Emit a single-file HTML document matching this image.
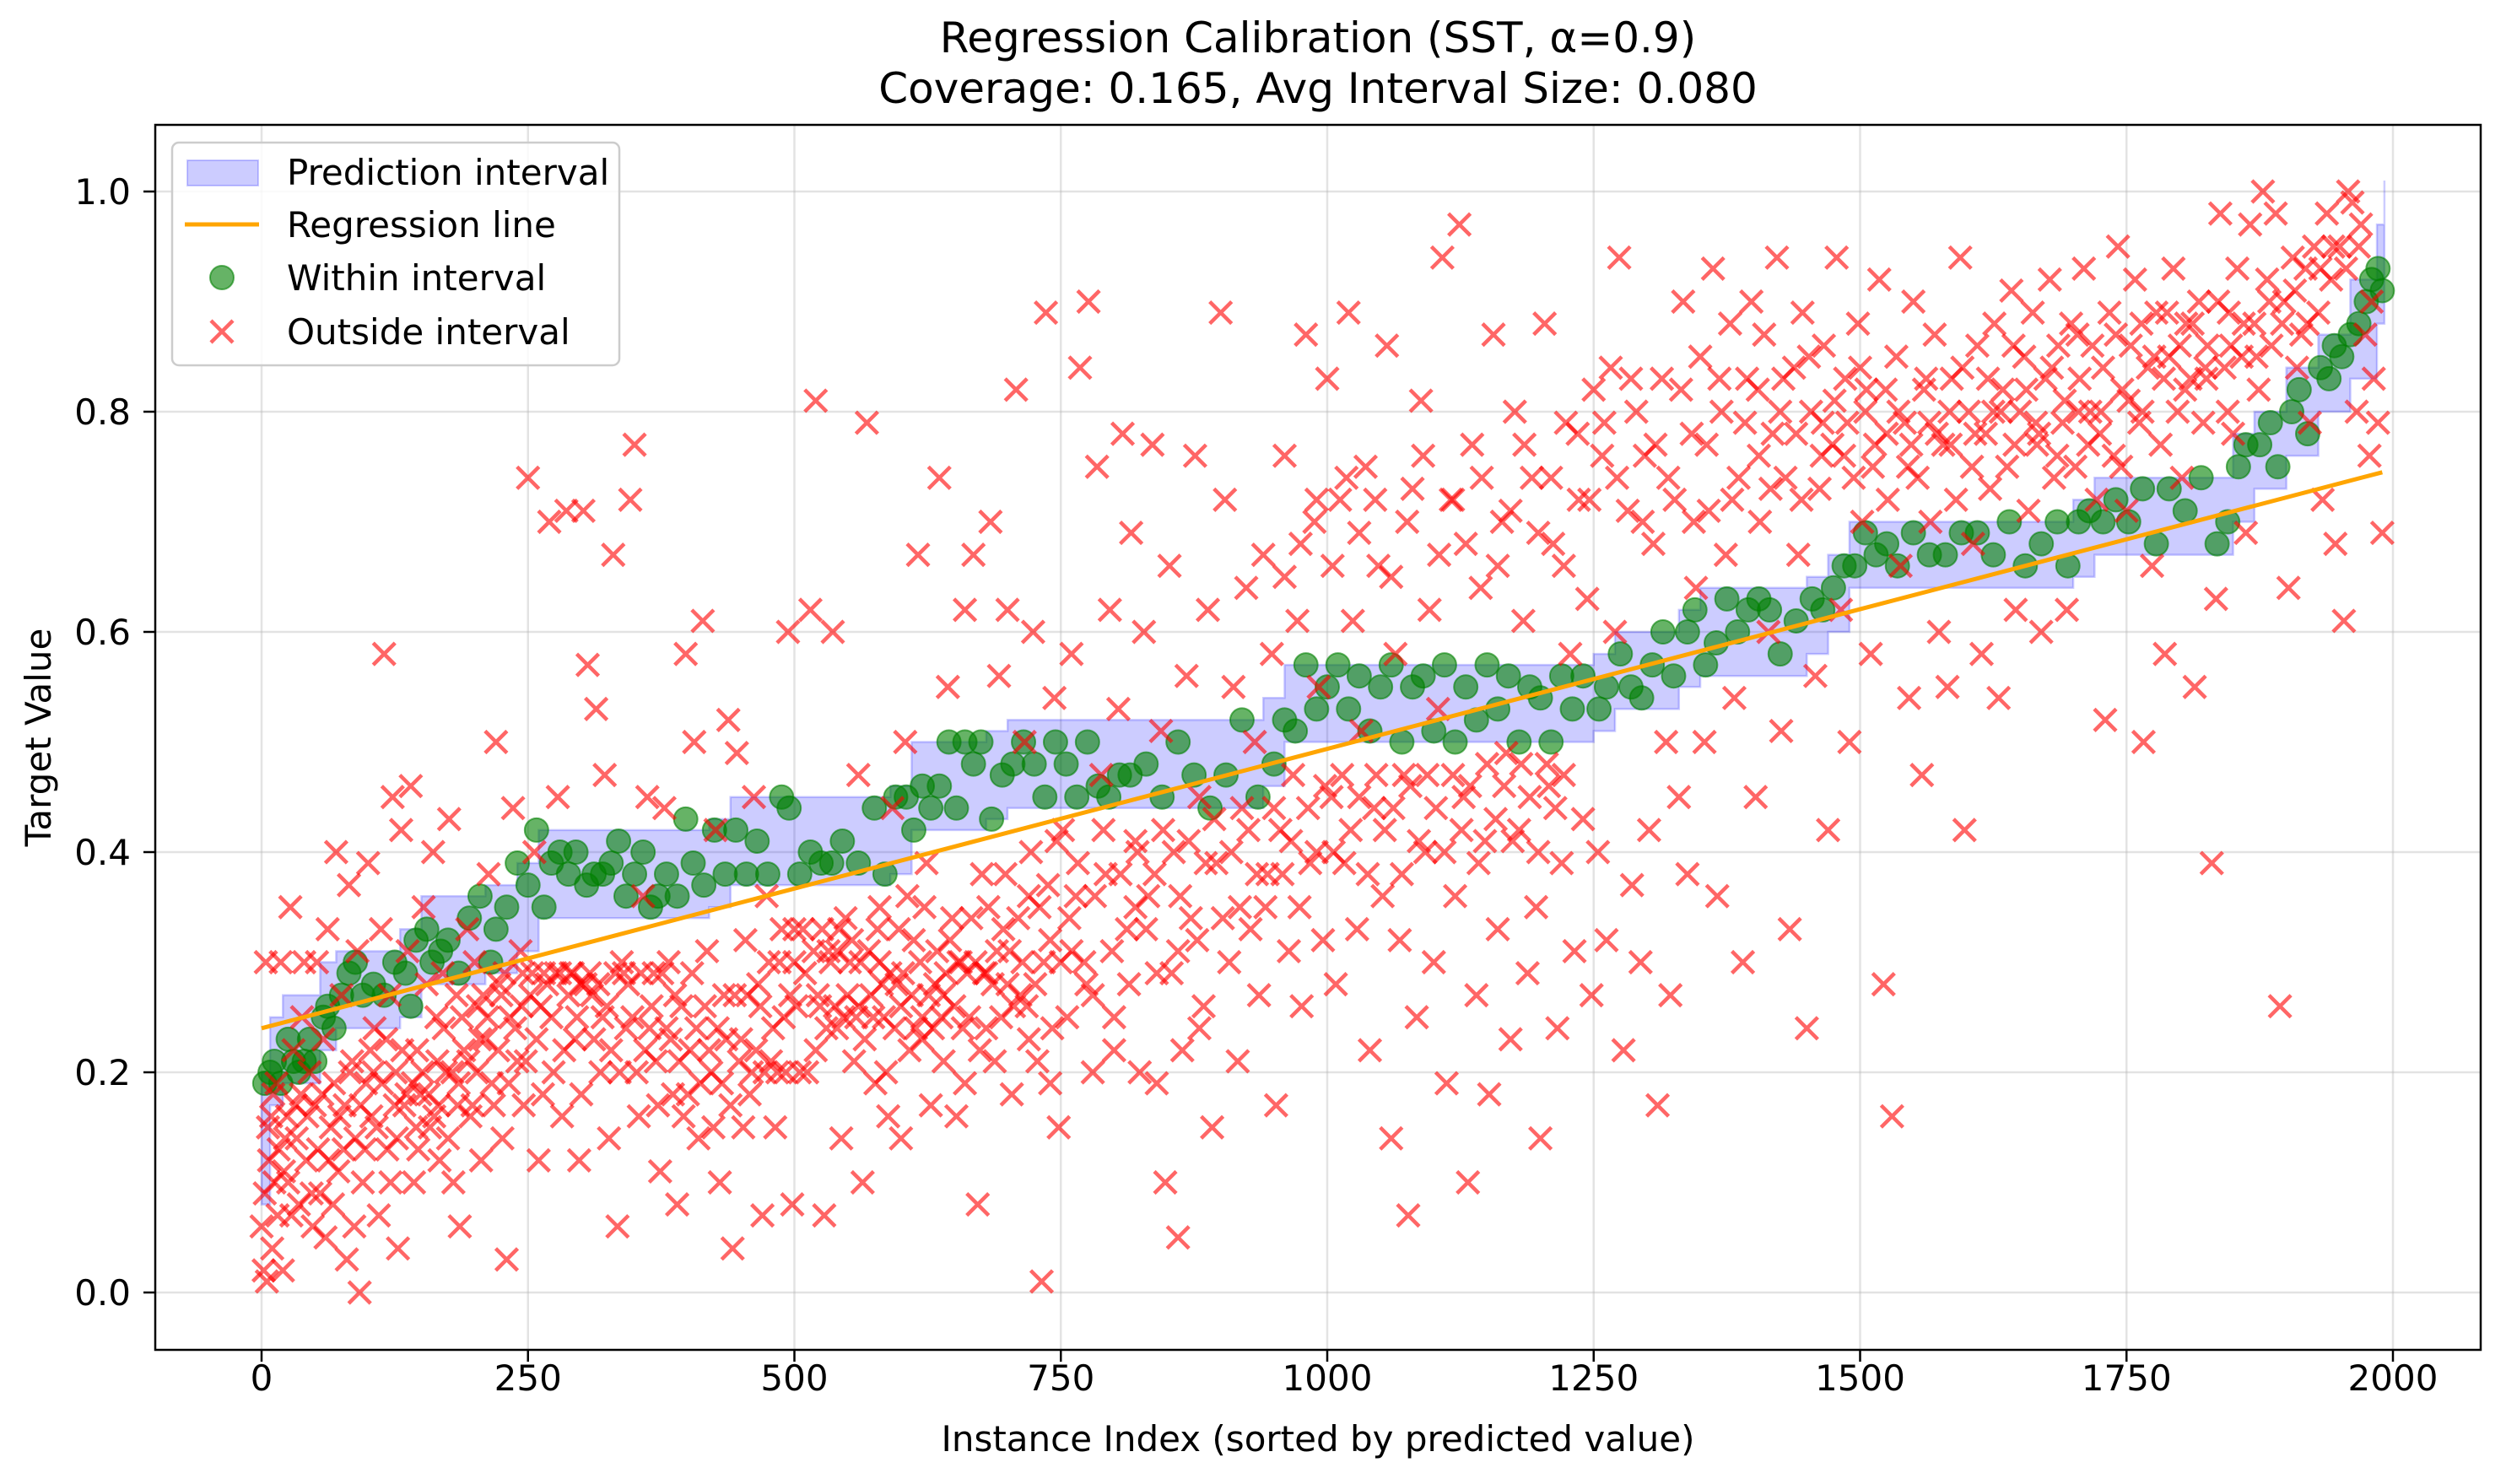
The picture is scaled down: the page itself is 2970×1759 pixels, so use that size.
<!DOCTYPE html>
<html><head><meta charset="utf-8">
<style>
html,body{margin:0;padding:0;background:#fff;}
svg{display:block;font-family:"DejaVu Sans","Liberation Sans",sans-serif;}
</style></head>
<body>
<svg id="chart" xmlns="http://www.w3.org/2000/svg" width="2970" height="1759" viewBox="0 0 2970 1759">
<rect x="0" y="0" width="2970" height="1759" fill="#fff"/>
<text x="1562" y="62" font-size="50" text-anchor="middle">Regression Calibration (SST, α=0.9)</text>
<text x="1562" y="122" font-size="50" text-anchor="middle">Coverage: 0.165, Avg Interval Size: 0.080</text>
<g id="grid"></g>
<g id="plot"></g>
<rect x="184" y="148" width="2756" height="1452" fill="none" stroke="#000" stroke-width="2.5"/>
<g id="ticks"></g>
<text x="1562" y="1720" font-size="42" text-anchor="middle">Instance Index (sorted by predicted value)</text>
<text x="0" y="0" font-size="42" text-anchor="middle" transform="translate(60,874) rotate(-90)">Target Value</text>
<g>
<rect x="204" y="169" width="530" height="264" rx="8" fill="#fff" fill-opacity="0.8" stroke="#ccc" stroke-width="2.5"/>
<rect x="222" y="190" width="84" height="30" fill="#0000ff" fill-opacity="0.2" stroke="#0000ff" stroke-opacity="0.2" stroke-width="2"/>
<text x="340" y="219" font-size="42">Prediction interval</text>
<line x1="219" y1="266" x2="307" y2="266" stroke="#ffa500" stroke-width="5"/>
<text x="340" y="281" font-size="42">Regression line</text>
<circle cx="263" cy="329" r="14" fill="#008000" fill-opacity="0.6" stroke="#008000" stroke-opacity="0.6" stroke-width="2"/>
<text x="340" y="344" font-size="42">Within interval</text>
<path d="M250,380L276,406M250,406L276,380" stroke="#ff0000" stroke-opacity="0.6" stroke-width="4.5"/>
<text x="340" y="408" font-size="42">Outside interval</text>
</g>
</svg>
<script>
const xTicks = [0,250,500,750,1000,1250,1500,1750,2000];
const yTicks = [0.0,0.2,0.4,0.6,0.8,1.0];
const yTickLabels = ["0.0","0.2","0.4","0.6","0.8","1.0"];
const regX = [0,1990];
const regY = [0.24,0.745];
const bandX = [0,8,20,55,70,130,150,210,240,260,420,440,590,610,680,700,940,960,1250,1270,1330,1350,1450,1470,1490,1700,1720,1850,1870,1900,1930,1960,1985,1992];
const bandLo = [0.08,0.17,0.19,0.22,0.24,0.25,0.28,0.29,0.31,0.34,0.35,0.37,0.38,0.42,0.43,0.44,0.46,0.50,0.51,0.53,0.55,0.56,0.58,0.60,0.64,0.65,0.67,0.70,0.73,0.76,0.80,0.83,0.88,0.95];
const bandHi = [0.20,0.25,0.27,0.30,0.31,0.33,0.36,0.37,0.39,0.42,0.43,0.45,0.46,0.50,0.51,0.52,0.54,0.57,0.58,0.60,0.62,0.64,0.65,0.67,0.70,0.72,0.74,0.78,0.80,0.84,0.87,0.92,0.97,1.01];
const withinPts = [[3,0.19],[8,0.2],[12,0.21],[18,0.19],[25,0.23],[30,0.21],[35,0.2],[40,0.21],[45,0.23],[50,0.21],[58,0.25],[62,0.26],[68,0.24],[75,0.27],[82,0.29],[88,0.3],[95,0.27],[105,0.28],[115,0.27],[125,0.3],[135,0.29],[140,0.26],[145,0.32],[155,0.33],[160,0.3],[168,0.31],[175,0.32],[185,0.29],[195,0.34],[205,0.36],[215,0.3],[220,0.33],[230,0.35],[240,0.39],[250,0.37],[258,0.42],[265,0.35],[272,0.39],[280,0.4],[288,0.38],[295,0.4],[305,0.37],[312,0.38],[320,0.38],[328,0.39],[335,0.41],[342,0.36],[350,0.38],[358,0.4],[365,0.35],[372,0.36],[380,0.38],[390,0.36],[398,0.43],[405,0.39],[415,0.37],[425,0.42],[435,0.38],[445,0.42],[455,0.38],[465,0.41],[475,0.38],[488,0.45],[495,0.44],[505,0.38],[515,0.4],[525,0.39],[535,0.39],[545,0.41],[560,0.39],[575,0.44],[585,0.38],[595,0.45],[605,0.45],[612,0.42],[620,0.46],[628,0.44],[636,0.46],[645,0.5],[652,0.44],[660,0.5],[668,0.48],[675,0.5],[685,0.43],[695,0.47],[705,0.48],[715,0.5],[725,0.48],[735,0.45],[745,0.5],[755,0.48],[765,0.45],[775,0.5],[785,0.46],[795,0.45],[805,0.47],[815,0.47],[830,0.48],[845,0.45],[860,0.5],[875,0.47],[890,0.44],[905,0.47],[920,0.52],[935,0.45],[950,0.48],[960,0.52],[970,0.51],[980,0.57],[990,0.53],[1000,0.55],[1010,0.57],[1020,0.53],[1030,0.56],[1040,0.51],[1050,0.55],[1060,0.57],[1070,0.5],[1080,0.55],[1090,0.56],[1100,0.51],[1110,0.57],[1120,0.5],[1130,0.55],[1140,0.52],[1150,0.57],[1160,0.53],[1170,0.56],[1180,0.5],[1190,0.55],[1200,0.54],[1210,0.5],[1220,0.56],[1230,0.53],[1240,0.56],[1255,0.53],[1262,0.55],[1275,0.58],[1285,0.55],[1295,0.54],[1305,0.57],[1315,0.6],[1325,0.56],[1338,0.6],[1345,0.62],[1355,0.57],[1365,0.59],[1375,0.63],[1385,0.6],[1395,0.62],[1405,0.63],[1415,0.62],[1425,0.58],[1440,0.61],[1455,0.63],[1465,0.62],[1475,0.64],[1485,0.66],[1495,0.66],[1505,0.69],[1515,0.67],[1525,0.68],[1535,0.66],[1550,0.69],[1565,0.67],[1580,0.67],[1595,0.69],[1610,0.69],[1625,0.67],[1640,0.7],[1655,0.66],[1670,0.68],[1685,0.7],[1695,0.66],[1705,0.7],[1715,0.71],[1728,0.7],[1740,0.72],[1752,0.7],[1765,0.73],[1778,0.68],[1790,0.73],[1805,0.71],[1820,0.74],[1835,0.68],[1845,0.7],[1855,0.75],[1862,0.77],[1875,0.77],[1885,0.79],[1892,0.75],[1905,0.8],[1912,0.82],[1920,0.78],[1932,0.84],[1940,0.83],[1945,0.86],[1952,0.85],[1960,0.87],[1968,0.88],[1975,0.9],[1980,0.92],[1986,0.93],[1990,0.91]];
const outsidePts = [[0,0.06],[2,0.02],[4,0.3],[5,0.01],[7,0.12],[9,0.16],[10,0.04],[12,0.1],[14,0.19],[15,0.07],[18,0.3],[20,0.02],[22,0.14],[25,0.1],[27,0.35],[30,0.22],[32,0.17],[35,0.08],[38,0.25],[40,0.3],[42,0.12],[45,0.2],[48,0.06],[50,0.17],[52,0.3],[55,0.09],[58,0.23],[60,0.05],[62,0.33],[65,0.15],[68,0.19],[70,0.4],[72,0.11],[75,0.27],[78,0.17],[80,0.03],[82,0.37],[85,0.21],[88,0.14],[90,0.31],[92,0],[95,0.1],[98,0.19],[100,0.39],
[103,0.16],[106,0.24],[110,0.07],[112,0.33],[115,0.58],[118,0.13],[120,0.27],[123,0.45],[126,0.2],[128,0.04],[131,0.42],[134,0.17],[137,0.31],[140,0.46],[143,0.1],[146,0.22],[149,0.18],[152,0.35],[155,0.28],[158,0.15],[161,0.4],[164,0.25],[167,0.12],[170,0.29],[173,0.2],[176,0.43],[180,0.1],[183,0.27],[186,0.06],[190,0.22],[193,0.33],[196,0.16],[200,0.3],[203,0.26],[206,0.12],[210,0.23],[213,0.38],[216,0.19],[220,0.5],[223,0.28],[226,0.14],[230,0.03],[233,0.25],[236,0.44],[240,0.21],[243,0.31],[246,0.17],[250,0.74],[252,0.27],
[256,0.4],[260,0.12],[265,0.29],[270,0.7],[274,0.2],[278,0.45],[282,0.16],[286,0.71],[290,0.29],[294,0.23],[298,0.12],[302,0.71],[306,0.57],[310,0.27],[314,0.53],[318,0.2],[322,0.47],[326,0.14],[330,0.67],[334,0.06],[338,0.3],[342,0.24],[346,0.72],[350,0.77],[354,0.16],[358,0.36],[362,0.45],[366,0.26],[370,0.21],[374,0.11],[378,0.44],[382,0.3],[386,0.18],[390,0.08],[394,0.26],[398,0.58],[402,0.22],[406,0.5],[410,0.14],[414,0.61],[418,0.31],[422,0.2],[426,0.42],[430,0.1],[434,0.27],[438,0.52],[442,0.04],[446,0.49],[450,0.23],[454,0.32],[458,0.18],[462,0.45],[466,0.28],[470,0.07],[474,0.36],[478,0.21],[482,0.15],[486,0.3],[490,0.25],[494,0.6],[498,0.08],[500,0.33],
[505,0.2],[510,0.29],[515,0.62],[520,0.81],[524,0.26],[528,0.07],[532,0.31],[536,0.6],[540,0.24],[544,0.14],[548,0.34],[552,0.3],[556,0.21],[560,0.47],[564,0.1],[568,0.79],[572,0.27],[576,0.19],[580,0.35],[584,0.25],[588,0.16],[592,0.44],[596,0.28],[600,0.14],[604,0.5],[608,0.22],[612,0.32],[616,0.67],[620,0.25],[624,0.39],[628,0.17],[632,0.28],[636,0.74],[640,0.21],[644,0.55],[648,0.34],[652,0.16],[656,0.3],[660,0.62],[664,0.25],[668,0.67],[672,0.08],[676,0.38],[680,0.29],[684,0.7],[688,0.21],[692,0.56],[696,0.33],[700,0.62],[704,0.18],[708,0.82],[712,0.27],[716,0.5],[720,0.36],[724,0.6],[728,0.21],[732,0.01],[736,0.89],[740,0.32],[744,0.54],[748,0.15],
[752,0.42],[756,0.25],[760,0.58],[764,0.36],[768,0.84],[772,0.3],[776,0.9],[780,0.2],[784,0.75],[788,0.47],[792,0.38],[796,0.62],[800,0.25],[804,0.53],[808,0.78],[812,0.33],[816,0.69],[820,0.41],[824,0.2],[828,0.6],[832,0.36],[836,0.77],[840,0.29],[844,0.51],[848,0.1],[852,0.66],[856,0.4],[860,0.05],[864,0.22],[868,0.56],[872,0.34],[876,0.76],[880,0.45],[884,0.26],[888,0.62],[892,0.15],[896,0.39],[900,0.89],[904,0.72],[908,0.3],[912,0.55],[916,0.21],[920,0.44],[924,0.64],[928,0.33],[932,0.5],[936,0.27],[940,0.67],[944,0.38],[948,0.58],[952,0.17],[956,0.42],[960,0.76],[964,0.31],[968,0.47],[972,0.61],[976,0.26],[980,0.87],[984,0.39],[988,0.7],[992,0.55],[996,0.32],[1000,0.83],
[1004,0.45],[1008,0.28],[1012,0.72],[1016,0.39],[1020,0.89],[1024,0.61],[1028,0.33],[1032,0.51],[1036,0.75],[1040,0.22],[1044,0.44],[1048,0.66],[1052,0.36],[1056,0.86],[1060,0.14],[1064,0.58],[1068,0.32],[1072,0.47],[1076,0.07],[1080,0.73],[1084,0.25],[1088,0.81],[1092,0.4],[1096,0.62],[1100,0.3],[1104,0.53],[1108,0.94],[1112,0.19],[1116,0.72],[1120,0.36],[1124,0.97],[1128,0.45],[1132,0.1],[1136,0.77],[1140,0.27],[1144,0.64],[1148,0.41],[1152,0.18],[1156,0.87],[1160,0.33],[1164,0.7],[1168,0.49],[1172,0.23],[1176,0.8],[1180,0.42],[1184,0.61],[1188,0.29],[1192,0.74],[1196,0.35],[1200,0.14],[1204,0.88],[1208,0.46],[1212,0.68],[1216,0.24],[1220,0.39],[1224,0.79],[1228,0.58],[1232,0.31],[1236,0.72],[1240,0.43],[1244,0.63],[1248,0.27],[1250,0.82],
[1254,0.4],[1258,0.76],[1262,0.32],[1266,0.84],[1270,0.6],[1274,0.94],[1278,0.22],[1282,0.71],[1286,0.37],[1290,0.8],[1294,0.3],[1298,0.76],[1302,0.42],[1306,0.68],[1310,0.17],[1314,0.83],[1318,0.5],[1322,0.27],[1326,0.72],[1330,0.45],[1334,0.9],[1338,0.38],[1342,0.78],[1346,0.64],[1350,0.85],[1354,0.5],[1358,0.71],[1362,0.93],[1366,0.36],[1370,0.8],[1374,0.67],[1378,0.88],[1382,0.54],[1386,0.74],[1390,0.3],[1394,0.83],[1398,0.9],[1402,0.45],[1406,0.7],[1410,0.87],[1414,0.6],[1418,0.78],[1422,0.94],[1426,0.51],[1430,0.74],[1434,0.33],[1438,0.84],[1442,0.67],[1446,0.89],[1450,0.24],[1454,0.8],[1458,0.56],[1462,0.73],[1466,0.86],[1470,0.42],[1474,0.77],[1478,0.94],[1482,0.62],[1486,0.83],[1490,0.5],[1494,0.74],[1498,0.88],
[1502,0.7],[1506,0.82],[1510,0.58],[1514,0.77],[1518,0.92],[1522,0.28],[1526,0.72],[1530,0.16],[1534,0.85],[1538,0.66],[1542,0.79],[1546,0.54],[1550,0.9],[1554,0.74],[1558,0.47],[1562,0.83],[1566,0.7],[1570,0.87],[1574,0.6],[1578,0.77],[1582,0.55],[1586,0.83],[1590,0.72],[1594,0.94],[1598,0.42],[1602,0.8],[1606,0.68],[1610,0.86],[1614,0.58],[1618,0.78],[1622,0.73],[1626,0.88],[1630,0.54],[1634,0.82],[1638,0.75],[1642,0.91],[1646,0.62],[1650,0.8],[1654,0.85],[1658,0.71],[1662,0.89],[1666,0.77],[1670,0.6],[1674,0.83],[1678,0.92],[1682,0.74],[1686,0.86],[1690,0.79],[1694,0.62],[1698,0.88],[1702,0.75],[1706,0.83],[1710,0.93],[1714,0.77],[1718,0.86],[1722,0.72],[1726,0.8],[1730,0.52],[1734,0.89],[1738,0.76],[1742,0.95],[1746,0.82],[1750,0.71],
[1754,0.86],[1758,0.92],[1762,0.79],[1766,0.5],[1770,0.84],[1774,0.66],[1778,0.89],[1782,0.77],[1786,0.58],[1790,0.85],[1794,0.93],[1798,0.8],[1802,0.74],[1806,0.88],[1810,0.83],[1814,0.55],[1818,0.9],[1822,0.79],[1826,0.86],[1830,0.39],[1834,0.63],[1838,0.98],[1842,0.84],[1846,0.89],[1850,0.78],[1854,0.93],[1858,0.85],[1862,0.69],[1866,0.97],[1870,0.88],[1874,0.82],[1878,1.0],[1882,0.92],[1886,0.86],[1890,0.98],[1894,0.26],[1898,0.9],[1902,0.64],[1906,0.94],[1910,0.84],[1914,0.87],[1918,0.93],[1922,0.79],[1926,0.95],[1930,0.89],[1934,0.72],[1938,0.98],[1942,0.92],[1946,0.68],[1950,0.95],[1954,0.61],[1958,1.0],[1962,0.99],[1966,0.8],[1970,0.97],[1974,0.87],[1978,0.76],[1982,0.83],[1986,0.79],[1990,0.69],
[105,0.2],[125,0.17],[145,0.15],[165,0.21],[185,0.19],[205,0.23],[225,0.27],[245,0.29],[262,0.26],[280,0.29],[300,0.28],[320,0.25],[340,0.29],[360,0.22],[380,0.24],[400,0.18],[420,0.22],[440,0.17],[460,0.2],[480,0.24],[500,0.3],[520,0.22],[540,0.31],[560,0.26],[580,0.3],[600,0.26],[620,0.23],[640,0.27],[660,0.19],[680,0.24],[700,0.28],[720,0.23],[740,0.19],[760,0.31],[780,0.27],[800,0.22],[820,0.35],[840,0.19],[860,0.31],[880,0.24],
[1405,0.76],[1425,0.8],[1445,0.72],[1465,0.79],[1485,0.76],[1505,0.8],[1525,0.78],[1545,0.75],[1565,0.79],[1585,0.77],[1605,0.75],[1625,0.8],[1645,0.77],[1665,0.79],[1685,0.76],[1705,0.8],[1725,0.78],[1745,0.75],[1765,0.8],[1785,0.83],[1805,0.82],[1825,0.83],[1845,0.8]];
const outsideExtraPts = [[3,0.09],[6,0.15],[11,0.18],[16,0.13],[21,0.11],[24,0.16],[28,0.07],[33,0.14],[37,0.18],[43,0.16],[47,0.09],[53,0.13],[57,0.18],[63,0.12],[67,0.08],[73,0.16],[77,0.13],[83,0.2],[87,0.06],[93,0.17],[97,0.13],[102,0.22],[108,0.15],[113,0.19],[117,0.23],[121,0.1],[127,0.14],[132,0.22],[136,0.18],[142,0.19],[147,0.13],[151,0.2],[157,0.18],[162,0.16],[166,0.17],[171,0.24],[175,0.14],[179,0.2],[184,0.17],[188,0.25],[194,0.21],[198,0.17],[202,0.2],[208,0.27],[212,0.25],[218,0.17],[222,0.22],[228,0.29],[232,0.19],[238,0.24],[244,0.26],[248,0.21],[254,0.29],[258,0.23],[264,0.18],[268,0.28],[272,0.25],[276,0.29],[284,0.22],[288,0.27],[292,0.29],[296,0.25],[300,0.18],[304,0.28],[308,0.29],[312,0.23],[316,0.28],[324,0.26],[328,0.22],[332,0.29],[336,0.2],[344,0.28],[348,0.25],[352,0.2],[356,0.29],[364,0.24],[368,0.29],[372,0.17],[376,0.29],[384,0.23],[388,0.27],[392,0.21],[396,0.16],[404,0.29],[408,0.24],[412,0.19],[416,0.26],[424,0.15],[428,0.24],[432,0.19],[436,0.23],[444,0.27],[448,0.21],[452,0.15],[456,0.27],[464,0.22],[468,0.26],[472,0.2],[476,0.3],[484,0.2],[488,0.33],[492,0.2],[496,0.27],[502,0.26],[508,0.33],[512,0.2],[518,0.31],[522,0.27],[526,0.33],[530,0.24],[534,0.3],[538,0.26],[542,0.33],[546,0.25],[550,0.27],[554,0.32],[558,0.25],[562,0.3],[566,0.23],[570,0.31],[574,0.25],[578,0.33],[582,0.28],[586,0.2],[590,0.29],[594,0.24],[598,0.33],[602,0.29],[606,0.36],[610,0.27],[614,0.24],[618,0.3],[622,0.35],[626,0.27],[630,0.24],[634,0.31],[638,0.25],[642,0.29],[646,0.32],[650,0.26],[654,0.3],[658,0.24],[662,0.29],[666,0.34],[670,0.3],[674,0.22],[678,0.29],[682,0.35],[686,0.28],[690,0.31],[694,0.25],[698,0.38],[702,0.31],[706,0.26],[710,0.34],[714,0.3],[718,0.26],[722,0.4],[726,0.28],[730,0.35],[734,0.3],[738,0.37],[742,0.24],[746,0.41],[750,0.3],[758,0.34],[766,0.39],[774,0.28],[782,0.36],[790,0.42],[798,0.31],[806,0.38],[814,0.28],[822,0.4],[830,0.33],[838,0.38],[846,0.42],[854,0.29],[862,0.36],[870,0.41],[878,0.32],[886,0.39],[894,0.43],[902,0.34],[910,0.4],[918,0.35],[926,0.42],[934,0.38],[942,0.35],[950,0.44],[958,0.38],[966,0.41],[974,0.35],[982,0.44],[990,0.4],[998,0.46],[1006,0.4],[1014,0.47],[1022,0.42],[1030,0.45],[1038,0.38],[1046,0.47],[1054,0.42],[1062,0.44],[1070,0.38],[1078,0.46],[1086,0.41],[1094,0.47],[1102,0.44],[1110,0.4],[1118,0.47],[1126,0.42],[1134,0.46],[1142,0.39],[1150,0.48],[1158,0.43],[1166,0.46],[1174,0.41],[1182,0.48],[1190,0.45],[1198,0.4],[1206,0.48],[1214,0.44],[1222,0.47],
[960,0.65],[975,0.68],[990,0.72],[1005,0.66],[1018,0.74],[1030,0.69],[1045,0.72],[1060,0.65],[1075,0.7],[1090,0.76],[1105,0.67],[1118,0.72],[1130,0.68],[1145,0.74],[1160,0.66],[1172,0.71],[1185,0.77],[1198,0.69],[1210,0.74],[1222,0.66],[1235,0.78],[1246,0.72],[1260,0.79],[1272,0.74],[1285,0.83],[1296,0.7],[1308,0.77],[1320,0.74],[1332,0.82],[1344,0.7],[1356,0.77],[1368,0.83],[1380,0.72],[1392,0.79],[1404,0.82],[1416,0.73],[1428,0.83],[1440,0.78],[1452,0.85],[1464,0.76],[1476,0.81],[1488,0.79],[1500,0.84],[1512,0.75],[1524,0.82],[1536,0.8],[1548,0.77],[1560,0.82],[1572,0.78],[1584,0.8],[1596,0.84],[1608,0.78],[1620,0.83],[1632,0.8],[1644,0.86],[1656,0.82],[1668,0.78],[1680,0.84],[1692,0.81],[1704,0.87],[1716,0.8],[1728,0.84],[1740,0.87],[1752,0.81],[1764,0.88],[1776,0.85],[1788,0.89],[1800,0.86],[1812,0.88],[1824,0.84],[1836,0.9],[1848,0.86],[1860,0.88],[1872,0.85],[1884,0.9],[1896,0.88],[1908,0.91],[1920,0.88],[1932,0.93],[1944,0.95],[1956,0.93],[1968,0.95],[1980,0.9]];

const NS = "http://www.w3.org/2000/svg";
const X0 = 184, X1 = 2940, Y0 = 148, Y1 = 1600;
function sx(v){ return 310 + v * (2836 - 310) / 2000; }
function sy(v){ return 1532 - v * 1305; }
function mk(tag, attrs, parent){
  const el = document.createElementNS(NS, tag);
  for (const k in attrs) el.setAttribute(k, attrs[k]);
  parent.appendChild(el);
  return el;
}
const gridG = document.getElementById('grid');
const plotG = document.getElementById('plot');
const ticksG = document.getElementById('ticks');

xTicks.forEach(function(t){
  const g = mk('line', {x1:sx(t), y1:Y0, x2:sx(t), y2:Y1, stroke:'#b0b0b0', 'stroke-opacity':0.35, 'stroke-width':2.5}, gridG);
  
  
  const tk = mk('line', {x1:sx(t), y1:Y1, x2:sx(t), y2:Y1+14, stroke:'#000', 'stroke-width':2.5}, ticksG);
  
  
  const lb = mk('text', {x:sx(t), y:1648, 'font-size':42, 'text-anchor':'middle'}, ticksG);
  lb.textContent = String(t);
  
  
});
yTicks.forEach(function(t, i){
  const g = mk('line', {x1:X0, y1:sy(t), x2:X1, y2:sy(t), stroke:'#b0b0b0', 'stroke-opacity':0.35, 'stroke-width':2.5}, gridG);
  
  
  const tk = mk('line', {x1:X0-14, y1:sy(t), x2:X0, y2:sy(t), stroke:'#000', 'stroke-width':2.5}, ticksG);
  
  
  const lb = mk('text', {x:155, y:sy(t)+15, 'font-size':42, 'text-anchor':'end'}, ticksG);
  lb.textContent = yTickLabels[i];
  
  
});

let bandTopPath = '', bandBotPath = '';
for (let i = 0; i < bandX.length; i++){
  const xa = sx(bandX[i]);
  const xb = sx(i + 1 < bandX.length ? bandX[i+1] : bandX[i]);
  bandTopPath += (i === 0 ? 'M' : 'L') + xa + ',' + sy(bandHi[i]) + 'L' + xb + ',' + sy(bandHi[i]);
}
for (let i = bandX.length - 1; i >= 0; i--){
  const xa = sx(bandX[i]);
  const xb = sx(i + 1 < bandX.length ? bandX[i+1] : bandX[i]);
  bandBotPath += 'L' + xb + ',' + sy(bandLo[i]) + 'L' + xa + ',' + sy(bandLo[i]);
}
const band = mk('path', {d: bandTopPath + bandBotPath + 'Z', fill:'#0000ff', 'fill-opacity':0.2, stroke:'#0000ff', 'stroke-opacity':0.2, 'stroke-width':2.5}, plotG);



withinPts.forEach(function(p){
  const c = mk('circle', {cx:sx(p[0]), cy:sy(p[1]), r:14, fill:'#008000', 'fill-opacity':0.6, stroke:'#008000', 'stroke-opacity':0.6, 'stroke-width':2}, plotG);
  
  
});
outsidePts.concat(outsideExtraPts).forEach(function(p){
  const x = sx(p[0]), y = sy(p[1]), h = 13;
  const m = mk('path', {d:'M'+(x-h)+','+(y-h)+'L'+(x+h)+','+(y+h)+'M'+(x-h)+','+(y+h)+'L'+(x+h)+','+(y-h), stroke:'#ff0000', 'stroke-opacity':0.6, 'stroke-width':4.5, fill:'none'}, plotG);
  
  
});
const reg = mk('line', {x1:sx(regX[0]), y1:sy(regY[0]), x2:sx(regX[1]), y2:sy(regY[1]), stroke:'#ffa500', 'stroke-width':5}, plotG);


</script>
</body></html>
